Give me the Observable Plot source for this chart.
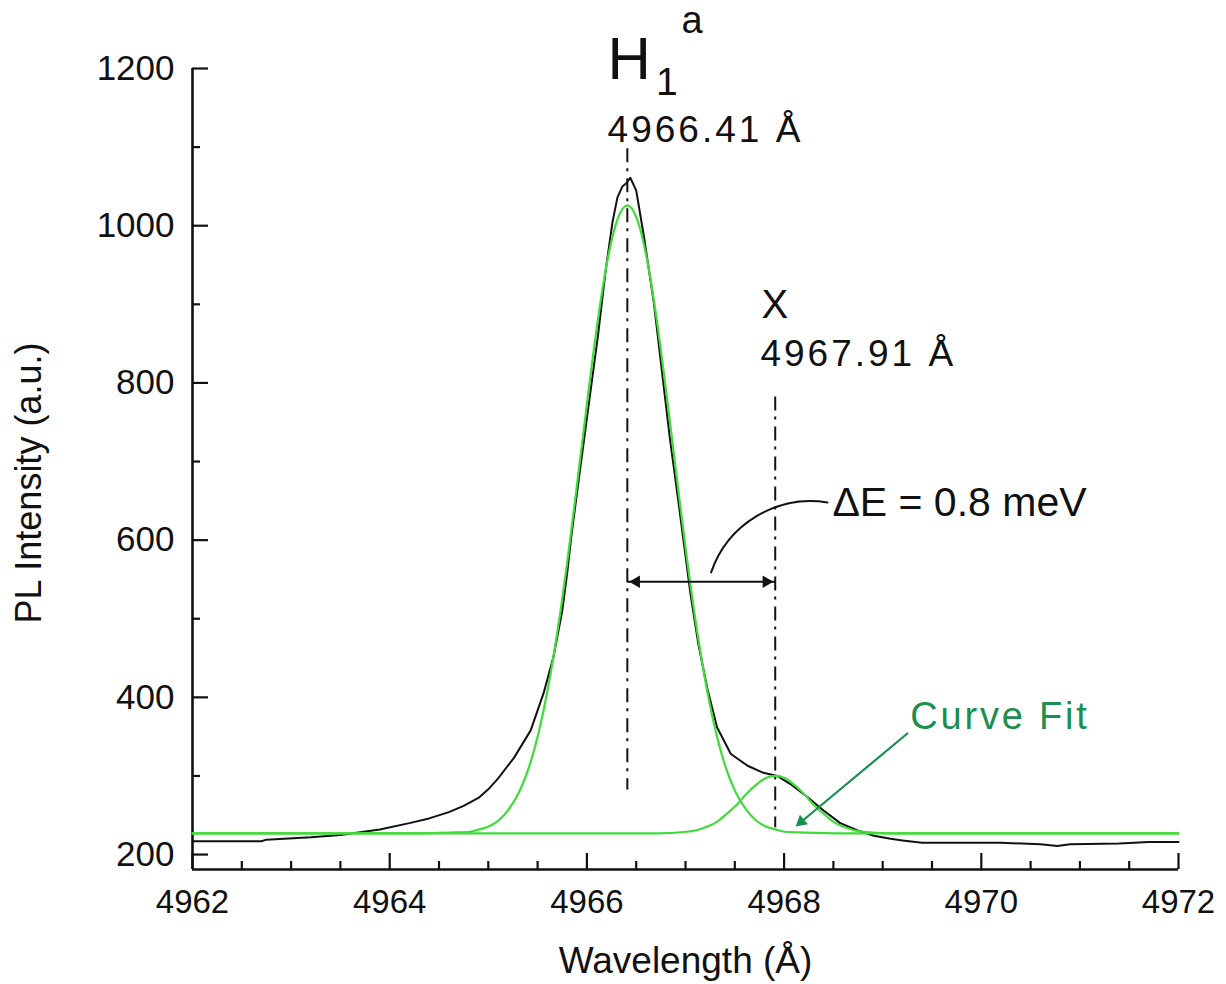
<!DOCTYPE html>
<html>
<head>
<meta charset="utf-8">
<script src="https://cdn.jsdelivr.net/npm/d3@7"></script>
<script src="https://cdn.jsdelivr.net/npm/@observablehq/plot@0.6"></script>
<style>
  html, body { margin: 0; padding: 0; background: #fff; }
  #chart svg { display: block; }
</style>
</head>
<body>
<div id="chart"></div>
<script>
// ---------- data ----------
// measured PL spectrum (black)
const specX = [4962.0, 4962.7, 4962.75, 4963.2, 4963.5, 4963.9, 4964.2, 4964.4, 4964.6, 4964.75, 4964.9, 4965.0, 4965.1, 4965.26, 4965.43, 4965.56, 4965.66, 4965.75, 4965.8, 4965.84, 4965.93, 4966.02, 4966.11, 4966.19, 4966.26, 4966.31, 4966.36, 4966.40, 4966.44, 4966.5, 4966.58, 4966.68, 4966.76, 4966.84, 4966.93, 4967.02, 4967.05, 4967.13, 4967.22, 4967.32, 4967.46, 4967.63, 4967.79, 4967.93, 4968.06, 4968.24, 4968.4, 4968.57, 4968.74, 4968.91, 4969.08, 4969.2, 4969.4, 4970.2, 4970.6, 4970.77, 4970.9, 4971.4, 4971.7, 4972.0];
const specY = [217, 217, 219, 222, 225, 232, 240, 246, 254, 262, 272, 283, 297, 323, 358, 405, 451, 510, 558, 603, 689, 774, 858, 943, 1005, 1036, 1050, 1054, 1061, 1045, 985, 901, 816, 731, 647, 561, 532, 468, 412, 362, 328, 313, 304, 300, 290, 273, 256, 240, 231, 224, 220, 218, 215, 215, 213, 211, 213, 214, 216, 216];

// curve fit, main peak H1a (green)
const fitMainX = [4962, 4964.21, 4964.61, 4964.81, 4964.91, 4965.01, 4965.11, 4965.21, 4965.31, 4965.41, 4965.51, 4965.61, 4965.71, 4965.81, 4965.91, 4966.01, 4966.11, 4966.21, 4966.31, 4966.41, 4966.51, 4966.61, 4966.71, 4966.81, 4966.91, 4967.01, 4967.11, 4967.21, 4967.31, 4967.41, 4967.51, 4967.61, 4967.71, 4967.81, 4967.91, 4968.01, 4968.21, 4968.61, 4972];
const fitMainY = [227, 227, 228, 229, 232, 236, 244, 258, 279, 310, 355, 415, 491, 581, 681, 783, 879, 957, 1008, 1026, 1008, 957, 879, 783, 681, 581, 491, 415, 355, 310, 279, 258, 244, 236, 232, 229, 228, 227, 227];

// curve fit, X peak (green)
const fitXX = [4962, 4966.71, 4967.01, 4967.11, 4967.21, 4967.31, 4967.41, 4967.51, 4967.61, 4967.71, 4967.81, 4967.91, 4968.01, 4968.11, 4968.21, 4968.31, 4968.41, 4968.51, 4968.61, 4968.71, 4968.81, 4969.11, 4972];
const fitXY = [227, 227, 229, 231, 235, 241, 251, 262, 276, 288, 297, 300, 297, 288, 276, 262, 251, 241, 235, 231, 229, 227, 227];

// ticks
const xMajor = [4962, 4964, 4966, 4968, 4970, 4972];
const xMinor = [4962.5, 4963, 4963.5, 4964.5, 4965, 4965.5, 4966.5, 4967, 4967.5, 4968.5, 4969, 4969.5, 4970.5, 4971, 4971.5];
const yMajor = [200, 400, 600, 800, 1000, 1200];
const yMinor = [300, 500, 700, 900, 1100];

// peak markers (dash-dot guides)
const peakX = [4966.41, 4967.91];
const guideTop = [1098, 782];
const guideBottom = [282, 234];
const splitY = 547; // level of the double arrow

// annotation anchors (data coordinates)
const labelH   = {text: "H", x: 4966.21, y: 1187};
const labelSub = {text: "1", x: 4966.70, y: 1166};
const labelSup = {text: "a", x: 4966.96, y: 1245};
const labelP1  = {text: "4966.41 Å", x: 4966.21, y: 1106};
const labelX   = {text: "X", x: 4967.77, y: 882};
const labelP2  = {text: "4967.91 Å", x: 4967.76, y: 822};
const labelDE  = {text: "ΔE = 0.8 meV", x: 4968.49, y: 631};
const labelFit = {text: "Curve Fit", x: 4969.28, y: 360};
const leader   = {x1: 4967.26, y1: 559, x2: 4968.44, y2: 648};
const fitArrow = {x1: 4969.25, y1: 354, x2: 4968.10, y2: 234};

// ---------- build ----------
const spec = specX.map((x, i) => ({x, y: specY[i]}));
const fitMain = fitMainX.map((x, i) => ({x, y: fitMainY[i]}));
const fitX = fitXX.map((x, i) => ({x, y: fitXY[i]}));
const guides = peakX.map((x, i) => ({x, y1: guideTop[i], y2: guideBottom[i]}));

const BLACK = "#111";
const GREEN = "#3fdc3a";
const DARKGREEN = "#1b8f50";
const font = "'Liberation Sans', Arial, Helvetica, sans-serif";

const txt = (o, opts) => Plot.text([o], {x: "x", y: "y", text: "text", textAnchor: "start", lineAnchor: "bottom", fill: BLACK, ...opts});

const chart = Plot.plot({
  width: 1226,
  height: 984,
  marginLeft: 192,
  marginRight: 48,
  marginTop: 68,
  marginBottom: 115,
  style: {fontFamily: font, background: "white", color: BLACK, overflow: "visible"},
  x: {domain: [4962, 4972], label: null},
  y: {domain: [181, 1200], label: null},
  marks: [
    // axes
    Plot.axisX(xMajor, {tickSize: -16, strokeWidth: 2.2, tickFormat: () => "", label: null}),
    Plot.axisX(xMinor, {tickSize: -8, strokeWidth: 2.2, tickFormat: () => "", label: null}),
    Plot.axisX(xMajor, {tickSize: 0, tickPadding: 20, fontSize: 33, tickFormat: d => String(d), label: null, fill: BLACK}),
    Plot.axisY(yMajor, {tickSize: -16, strokeWidth: 2.2, tickFormat: () => "", label: null}),
    Plot.axisY(yMinor, {tickSize: -8, strokeWidth: 2.2, tickFormat: () => "", label: null}),
    Plot.axisY(yMajor, {tickSize: 0, tickPadding: 18, fontSize: 35, tickFormat: d => String(d), label: null, fill: BLACK}),
    Plot.ruleX([4962], {stroke: BLACK, strokeWidth: 2.6}),
    Plot.ruleY([181], {stroke: BLACK, strokeWidth: 2.6}),

    // axis titles
    Plot.text(["Wavelength (Å)"], {frameAnchor: "bottom", dy: 103, lineAnchor: "bottom", fontSize: 37, fill: BLACK}),
    Plot.text(["PL Intensity (a.u.)"], {frameAnchor: "left", textAnchor: "middle", dx: -152, dy: 14, rotate: -90, lineAnchor: "bottom", fontSize: 36, fill: BLACK}),

    // dash-dot guides
    Plot.ruleX(guides, {x: "x", y1: "y1", y2: "y2", stroke: BLACK, strokeWidth: 2, strokeDasharray: "14,6,3,7"}),

    // spectrum and fits
    Plot.line(spec, {x: "x", y: "y", stroke: BLACK, strokeWidth: 2}),
    Plot.line(fitMain, {x: "x", y: "y", stroke: GREEN, strokeWidth: 2.2, curve: "monotone-x"}),
    Plot.line(fitX, {x: "x", y: "y", stroke: GREEN, strokeWidth: 2.2, curve: "monotone-x"}),

    // double arrow for splitting
    Plot.link([{x1: peakX[0], x2: peakX[1], y: splitY}], {x1: "x1", x2: "x2", y1: "y", y2: "y", stroke: BLACK, strokeWidth: 2}),
    Plot.dot([{x: peakX[1], y: splitY}], {x: "x", y: "y", symbol: "triangle2", r: 6, rotate: 90, fill: BLACK, dx: -9}),
    Plot.dot([{x: peakX[0], y: splitY}], {x: "x", y: "y", symbol: "triangle2", r: 6, rotate: -90, fill: BLACK, dx: 9}),

    // curved leader to ΔE label
    Plot.arrow([leader], {x1: "x1", y1: "y1", x2: "x2", y2: "y2", bend: 40, headLength: 0, stroke: BLACK, strokeWidth: 2}),

    // green arrow to the fit
    Plot.arrow([fitArrow], {x1: "x1", y1: "y1", x2: "x2", y2: "y2", headLength: 0, insetEnd: 8, stroke: DARKGREEN, strokeWidth: 2.2}),
    Plot.dot([fitArrow], {x: "x2", y: "y2", symbol: "triangle2", r: 6, rotate: 230, fill: DARKGREEN, dx: 7.2, dy: -6.0}),

    // labels
    txt(labelH, {fontSize: 60}),
    txt(labelSub, {fontSize: 39}),
    txt(labelSup, {fontSize: 38}),
    txt(labelP1, {fontSize: 37}),
    txt(labelX, {fontSize: 40}),
    txt(labelP2, {fontSize: 37}),
    txt(labelDE, {fontSize: 41}),
    txt(labelFit, {fontSize: 38, fill: DARKGREEN})
  ]
});

// letter spacing of the wavelength labels
d3.select(chart).selectAll("text")
  .filter(function () { const t = this.textContent; return /^49\d\d\.\d\d Å$/.test(t); })
  .attr("letter-spacing", "3px");
d3.select(chart).selectAll("text")
  .filter(function () { return this.textContent === "Curve Fit"; })
  .attr("letter-spacing", "2.8px");

document.getElementById("chart").appendChild(chart);
</script>
</body>
</html>
